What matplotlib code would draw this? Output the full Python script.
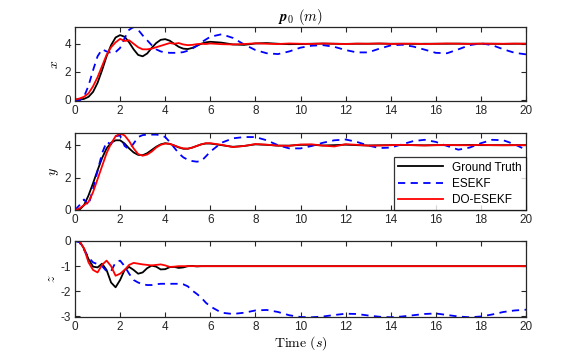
import numpy as np
import matplotlib
matplotlib.use("Agg")
import matplotlib.pyplot as plt

plt.rcParams["font.family"] = ["Liberation Sans", "DejaVu Sans"]
plt.rcParams["mathtext.fontset"] = "cm"
plt.rcParams["axes.unicode_minus"] = False

# time grid: fine during the transient, coarser once things settle
t = np.round(np.concatenate([np.arange(0, 6.01, 0.2), np.arange(6.5, 20.01, 0.5)]), 2)

# ---- x position ----
x_truth = [0, 0.0, 0.05, 0.2, 0.55, 1.2, 2.1, 3.1, 3.9, 4.45, 4.62, 4.5, 4.1, 3.6, 3.2, 3.1,
           3.3, 3.7, 4.05, 4.28, 4.33, 4.22, 4.0, 3.78, 3.65, 3.62, 3.7, 3.85, 4.0, 4.1, 4.14,
           4.08, 3.95, 3.92, 4.02, 4.05, 4.0, 3.97, 3.98, 4.0, 4.01, 4.0, 3.99, 4.0, 4.0, 4.01,
           4.0, 4.0, 3.99, 4.0, 4.0, 4.0, 4.01, 4.0, 4.0, 4.0, 3.99, 4.0, 4.0]
x_esekf = [0, -0.05, 0.2, 1.0, 2.1, 3.1, 3.6, 3.45, 3.35, 3.4, 3.7, 4.4, 5.0, 5.2, 5.0, 4.6,
           4.25, 3.9, 3.6, 3.45, 3.38, 3.35, 3.35, 3.36, 3.4, 3.5, 3.65, 3.85, 4.1, 4.3, 4.5,
           4.68, 4.42, 3.95, 3.55, 3.32, 3.26, 3.45, 3.72, 3.86, 3.9, 3.78, 3.55, 3.38, 3.38,
           3.65, 3.88, 3.93, 3.8, 3.58, 3.35, 3.32, 3.6, 3.9, 4.03, 3.9, 3.6, 3.35, 3.24]
x_doesekf = [0, 0.08, 0.2, 0.45, 0.95, 1.6, 2.4, 3.2, 3.75, 4.1, 4.35, 4.2, 4.25, 4.0, 3.75,
             3.6, 3.6, 3.65, 3.75, 3.85, 3.95, 4.05, 4.0, 4.05, 3.95, 3.9, 3.92, 3.97, 4.0,
             3.98, 4.02, 3.97, 3.95, 3.98, 4.03, 4.0, 3.98, 4.02, 4.0, 3.99, 4.02, 4.0, 3.98,
             4.01, 4.0, 4.02, 3.99, 4.0, 4.01, 3.98, 4.0, 4.02, 4.0, 3.99, 4.01, 4.0, 4.0, 4.01, 4.0]

# ---- y position ----
y_truth = [0, 0.02, 0.3, 0.9, 1.65, 2.45, 3.2, 3.8, 4.15, 4.3, 4.3, 4.1, 3.8, 3.55, 3.4, 3.38,
           3.5, 3.7, 3.9, 4.05, 4.12, 4.08, 3.98, 3.86, 3.78, 3.78, 3.85, 3.95, 4.05, 4.1, 4.1,
           4.0, 3.9, 3.95, 4.05, 4.02, 3.97, 3.97, 4.02, 4.02, 3.98, 4.0, 4.03, 4.0, 3.98, 3.99,
           4.0, 4.01, 4.0, 3.99, 4.0, 4.0, 4.0, 4.01, 4.0, 4.0, 4.0, 4.0, 4.0]
y_esekf = [0, 0.3, 0.65, 0.3, 1.3, 2.4, 3.5, 4.2, 4.05, 4.55, 4.6, 3.95, 3.75, 4.1, 4.5, 4.62,
           4.65, 4.65, 4.65, 4.62, 4.5, 4.2, 3.85, 3.5, 3.25, 3.1, 3.02, 2.98, 3.02, 3.3, 3.6,
           4.15, 4.42, 4.5, 4.5, 4.3, 4.0, 3.8, 3.8, 3.95, 4.15, 4.3, 4.35, 4.2, 3.98, 3.82,
           3.85, 4.05, 4.25, 4.33, 4.2, 3.95, 3.72, 3.85, 4.12, 4.33, 4.3, 4.05, 3.71]
y_doesekf = [0, 0.1, 0.3, 0.5, 1.1, 1.9, 2.7, 3.5, 4.1, 4.55, 4.72, 4.6, 4.25, 3.8, 3.45, 3.35,
             3.42, 3.6, 3.85, 4.02, 4.1, 4.08, 3.98, 3.88, 3.8, 3.78, 3.85, 3.95, 4.05, 4.12,
             4.12, 4.02, 3.88, 3.95, 4.07, 4.03, 3.97, 3.96, 4.04, 4.05, 3.97, 3.92, 4.06, 4.02,
             3.97, 3.98, 4.0, 4.02, 4.0, 3.98, 4.0, 4.01, 4.0, 3.99, 4.02, 4.0, 3.99, 4.0, 4.0]

# ---- z position ----
z_truth = [0, -0.02, -0.3, -0.72, -1.02, -1.05, -0.9, -1.15, -1.65, -1.84, -1.55, -1.15, -1.03,
           -1.15, -1.3, -1.25, -1.08, -0.98, -1.02, -1.13, -1.12, -1.04, -1.03, -1.07, -1.05,
           -1.0, -0.99, -1.01, -1.0, -1.0, -1.0, -1.0, -1.0, -1.0, -1.0, -1.0, -1.0, -1.0, -1.0,
           -1.0, -1.0, -1.0, -1.0, -1.0, -1.0, -1.0, -1.0, -1.0, -1.0, -1.0, -1.0, -1.0, -1.0,
           -1.0, -1.0, -1.0, -1.0, -1.0, -1.0]
z_esekf = [0, -0.05, -0.35, -0.65, -0.85, -0.92, -1.0, -1.2, -1.2, -0.85, -0.78, -1.0, -1.3,
           -1.55, -1.65, -1.72, -1.75, -1.75, -1.72, -1.7, -1.7, -1.7, -1.7, -1.7, -1.72, -1.8,
           -1.97, -2.1, -2.25, -2.45, -2.6, -2.85, -2.9, -2.85, -2.76, -2.74, -2.82, -2.95,
           -3.02, -3.03, -3.0, -2.94, -2.89, -2.9, -2.96, -3.01, -3.03, -3.0, -2.95, -2.9,
           -2.88, -2.94, -3.0, -3.03, -3.0, -2.92, -2.82, -2.76, -2.73]
z_doesekf = [0, 0.0, -0.3, -0.85, -1.15, -1.25, -0.95, -0.78, -1.0, -1.38, -1.3, -1.15, -0.95,
             -0.87, -0.9, -0.93, -0.95, -0.97, -0.95, -0.93, -0.97, -1.03, -1.02, -1.0, -1.0,
             -1.0, -1.0, -1.0, -1.0, -1.0, -1.0, -1.0, -1.0, -1.0, -1.0, -1.0, -1.0, -1.0, -1.0,
             -1.0, -1.0, -1.0, -1.0, -1.0, -1.0, -1.0, -1.0, -1.0, -1.0, -1.0, -1.0, -1.0, -1.0,
             -1.0, -1.0, -1.0, -1.0, -1.0, -1.0]

labels = ["Ground Truth", "ESEKF", "DO-ESEKF"]
panels = [
    ("x", x_truth, x_esekf, x_doesekf, (-0.1, 5.2), [0, 2, 4]),
    ("y", y_truth, y_esekf, y_doesekf, (0, 4.75), [0, 2, 4]),
    ("z", z_truth, z_esekf, z_doesekf, (-3.02, 0), [-3, -2, -1, 0]),
]

fig = plt.figure(figsize=(5.81, 3.57), dpi=100)
# axes rectangles in figure fractions (left, bottom, width, height)
rects = [
    (75 / 581, 1 - 101 / 357, 451 / 581, 74 / 357),
    (75 / 581, 1 - 210 / 357, 451 / 581, 77 / 357),
    (75 / 581, 1 - 317 / 357, 451 / 581, 76 / 357),
]

edge = (0.15, 0.15, 0.15)
for i, (name, truth, esekf, doesekf, ylim, yticks) in enumerate(panels):
    ax = fig.add_axes(rects[i])
    ax.plot(t, truth, color="k", lw=1.3, label=labels[0])
    ax.plot(t, esekf, color="b", lw=1.3, ls=(0, (4, 3)), label=labels[1])
    ax.plot(t, doesekf, color="r", lw=1.3, label=labels[2])
    ax.set_xlim(0, 20)
    ax.set_ylim(*ylim)
    ax.set_xticks(np.arange(0, 21, 2))
    ax.set_yticks(yticks)
    ax.set_ylabel(r"$%s$" % name, fontsize=10, labelpad=2)
    ax.tick_params(direction="in", top=True, right=True, length=3.5, width=0.8,
                   labelsize=8.5, colors=edge, labelcolor=(0.15, 0.15, 0.15), pad=3)
    for s in ax.spines.values():
        s.set_color(edge)
        s.set_linewidth(0.9)
    if i == 0:
        ax.set_title(r"$\boldsymbol{p}_0\ (m)$", fontsize=10.5, pad=4)
    if i == 1:
        leg = ax.legend(loc="lower right", fontsize=8.5, frameon=True, fancybox=False,
                        edgecolor="k", borderaxespad=0, handlelength=3.8,
                        borderpad=0.35, labelspacing=0.35)
        leg.get_frame().set_linewidth(0.9)
    if i == 2:
        ax.set_xlabel(r"$\mathrm{Time}\ (s)$", fontsize=10, labelpad=1)

fig.savefig("out.png", dpi=100)
